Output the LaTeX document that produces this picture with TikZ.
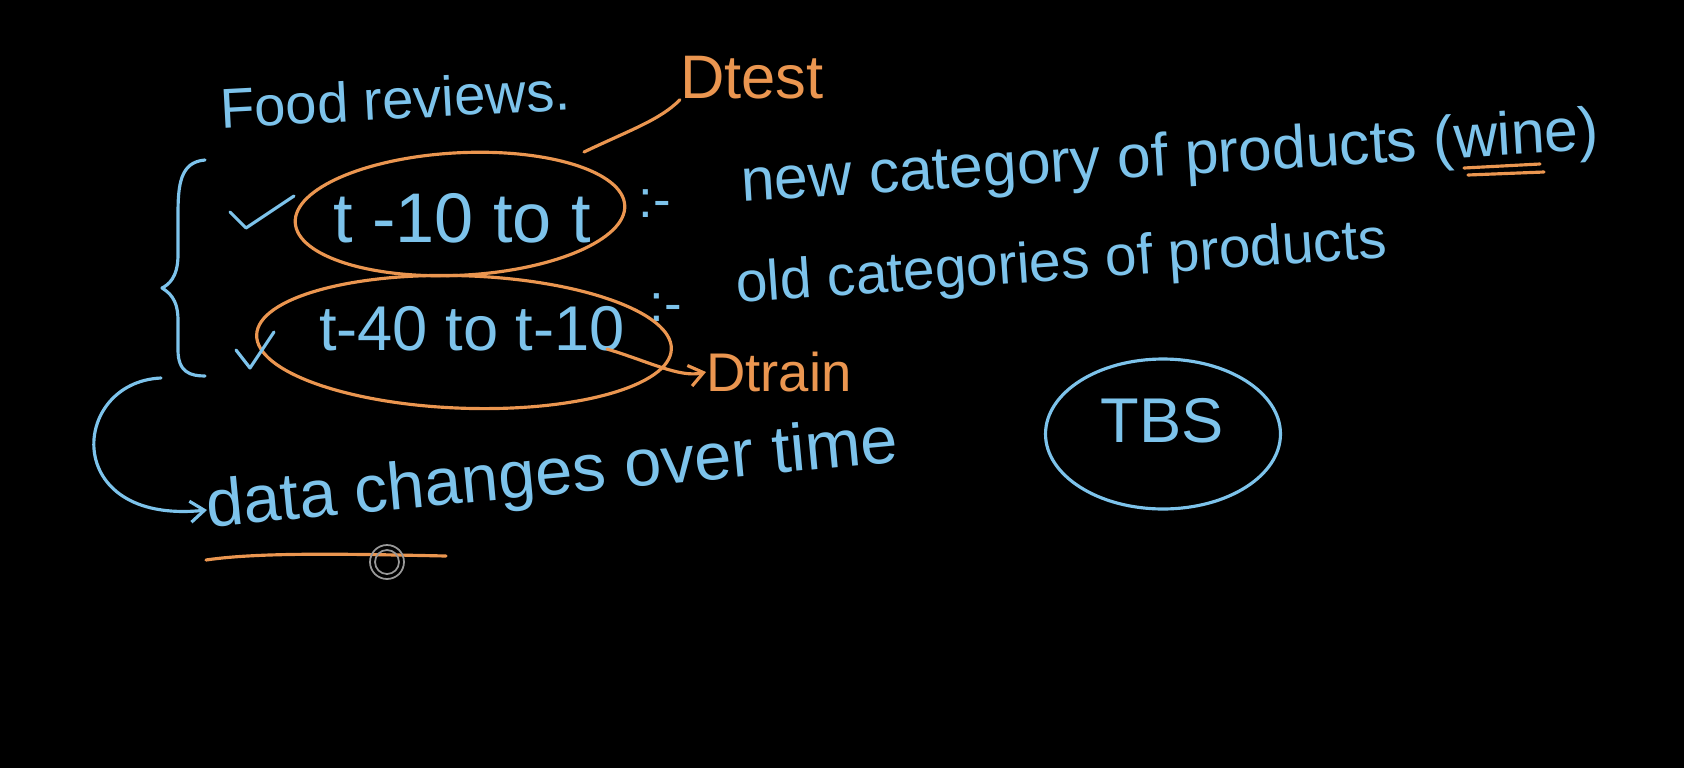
\documentclass[tikz,border=0pt]{standalone}
\usepackage{fontspec}
\setmainfont{Liberation Sans}
\usetikzlibrary{shapes.geometric,arrows.meta}
\definecolor{chalkblue}{RGB}{125,195,235}
\definecolor{chalkorange}{RGB}{235,150,80}
\begin{document}
\begin{tikzpicture}[x=0.02cm,y=-0.02cm,
  bluetxt/.style={text=chalkblue,inner sep=0pt},
  orangetxt/.style={text=chalkorange,inner sep=0pt},
  bluepen/.style={draw=chalkblue,line width=1.8pt,line cap=round,line join=round},
  orangepen/.style={draw=chalkorange,line width=1.8pt,line cap=round,line join=round},
  oval/.style={ellipse,inner sep=0pt}]
\fill[black] (0,0) rectangle (1684,768);
\useasboundingbox (0,0) rectangle (1684,768);
% texts
\node[bluetxt,font=\fontsize{32}{38}\selectfont,rotate=3] (food) at (395,99) {Food reviews.};
\node[orangetxt,font=\fontsize{35}{40}\selectfont] (dtest) at (752,78) {Dtest};
\node[bluetxt,font=\fontsize{40}{46}\selectfont] (r1) at (462,218) {t -10 to t};
\node[bluetxt,font=\fontsize{30}{36}\selectfont] (c1) at (655,204) {:-};
\node[bluetxt,font=\fontsize{34.5}{40}\selectfont,rotate=3.5,anchor=west] (new) at (741,186) {new category of products (wine)};
\node[bluetxt,font=\fontsize{36}{42}\selectfont] (r2) at (472,329) {t-40 to t-10};
\node[bluetxt,font=\fontsize{30}{36}\selectfont] (c2) at (666,308) {:-};
\node[bluetxt,font=\fontsize{32.4}{38}\selectfont,rotate=4,anchor=west] (old) at (736,288) {old categories of products};
\node[orangetxt,font=\fontsize{31}{38}\selectfont,anchor=west] (dtrain) at (706,372) {Dtrain};
\node[bluetxt,font=\fontsize{38}{44}\selectfont,rotate=5.4,anchor=west] (data) at (207,510) {data changes over time};
% ellipses
\node[oval,orangepen,minimum width=6.6cm,minimum height=2.45cm,rotate=3] (up) at (460,214) {};
\node[oval,orangepen,minimum width=8.3cm,minimum height=2.65cm,rotate=-2] (low) at (464,342) {};
\node[oval,bluepen,minimum width=4.7cm,minimum height=3.0cm] (tbs) at (1163,434) {};
\node[bluetxt,font=\fontsize{36}{42}\selectfont] (tbstxt) at (1162,421) {TBS};
% ticks
\draw[bluepen] (230,212) -- (246,228) -- (294,196);
\draw[bluepen] (236,350) -- (250,368) -- (274,332);
% brace
\coordinate (bt) at (205,160);
\coordinate (bb) at (205,376);
\draw[bluepen] (bt) .. controls (180,162) and (178,185) .. (178,215)
  -- (178,255) .. controls (178,278) and (168,285) .. (162,288)
  .. controls (168,292) and (178,298) .. (178,320)
  -- (178,350) .. controls (178,372) and (190,376) .. (bb);
% curved arrow from brace to data
\coordinate (cs) at (161,378);
\draw[bluepen,-{Straight Barb[length=8pt,width=12pt]}] (cs) .. controls (70,382) and (60,525) .. (data.west);
% Dtest connector
\coordinate (dtend) at (584,152);
\draw[orangepen] (dtest.south west) .. controls (660,120) and (630,130) .. (dtend);
% Dtrain arrow
\coordinate (ts) at (607,349);
\draw[orangepen,-{Straight Barb[length=8pt,width=12pt]}] (ts) .. controls (650,362) and (680,378) .. (dtrain.west);
% wine underline
\coordinate (w1) at (1464,168);
\coordinate (w2) at (1540,164);
\coordinate (w3) at (1468,175);
\coordinate (w4) at (1544,172);
\draw[orangepen] (w1) -- (w2);
\draw[orangepen] (w3) -- (w4);
% data underline
\coordinate (u1) at (206,560);
\coordinate (u2) at (446,556);
\draw[orangepen] (u1) .. controls (260,552) and (350,554) .. (u2);
% pen cursor
\coordinate (pc) at (387,562);
\draw[gray!80,line width=1pt] (pc) circle (0.34cm);
\draw[gray!80,line width=1pt] (pc) circle (0.24cm);
\end{tikzpicture}
\end{document}
